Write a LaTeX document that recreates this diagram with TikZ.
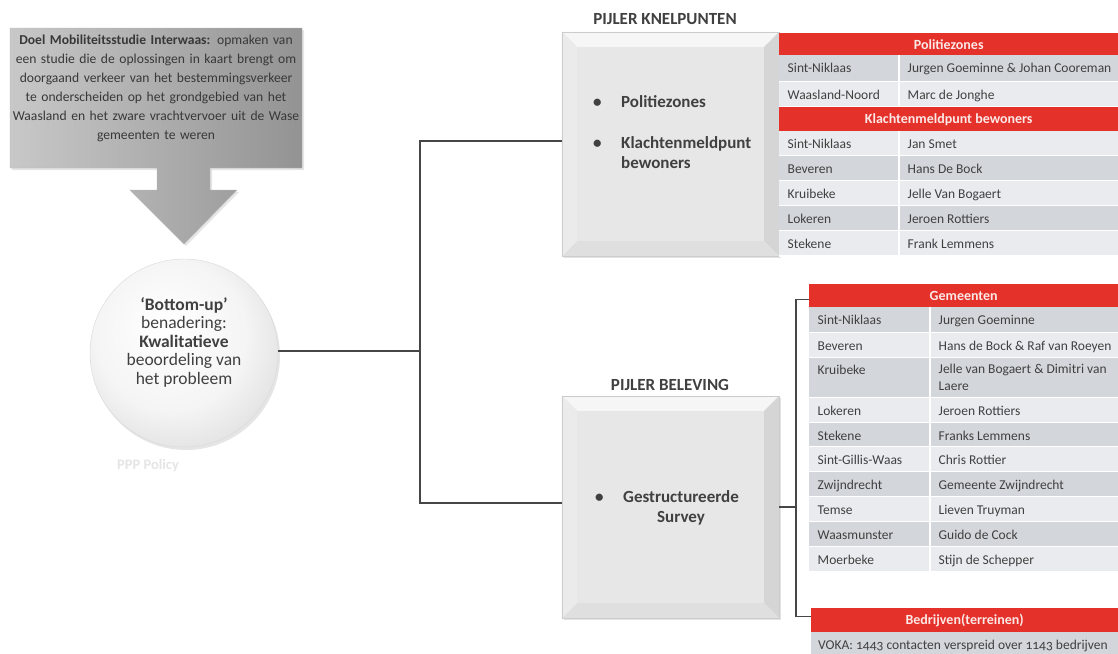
\documentclass[tikz,border=0pt]{standalone}
\usepackage{fontspec}
\setmainfont{Carlito}
\usetikzlibrary{shadows,calc}
\definecolor{txt}{HTML}{404040}
\definecolor{hdr}{HTML}{E4312A}
\definecolor{hdrtxt}{HTML}{FCE8E6}
\definecolor{rowA}{HTML}{D3D6DB}
\definecolor{rowB}{HTML}{E9EBEE}
\definecolor{conn}{HTML}{464646}
\definecolor{bevT}{HTML}{F6F6F6}
\definecolor{bevL}{HTML}{EBEBEB}
\definecolor{bevR}{HTML}{D5D5D5}
\definecolor{bevB}{HTML}{DFDFDF}
\definecolor{face}{HTML}{E7E7E7}
\definecolor{goalL}{HTML}{C8C8C8}
\definecolor{goalR}{HTML}{939393}
\pgfdeclareradialshading{ballish}{\pgfpoint{-6bp}{8bp}}{color(0bp)=(white); color(20bp)=(white!96!black); color(40bp)=(white!82!black); color(50bp)=(white!72!black)}
\tikzset{
  cell/.style={font=\fontsize{13.5}{17}\selectfont, text=txt, inner sep=0pt, anchor=base west},
  hdrbox/.style={fill=hdr, text=hdrtxt, font=\bfseries\fontsize{14}{16}\selectfont, inner sep=0pt, anchor=north west},
  connline/.style={draw=conn, line width=2pt},
  brkline/.style={draw=conn, line width=1.3pt},
  pillar/.style={draw=gray!40, line width=0.4pt, fill=face, minimum width=217pt, inner sep=0pt,
    drop shadow={shadow xshift=2pt, shadow yshift=-2pt, opacity=0.22}},
  titletxt/.style={font=\bfseries\fontsize{17}{20}\selectfont, text=txt, inner sep=0pt},
  boxtxt/.style={font=\bfseries\fontsize{17}{20}\selectfont, text=txt, inner sep=0pt}
}
\newcommand{\bevelize}[1]{%
  \fill[bevT] (#1.north west) -- (#1.north east) -- ($(#1.north east)+(-15,15)$) -- ($(#1.north west)+(15,15)$) -- cycle;
  \fill[bevR] (#1.north east) -- (#1.south east) -- ($(#1.south east)+(-15,-15)$) -- ($(#1.north east)+(-15,15)$) -- cycle;
  \fill[bevB] (#1.south east) -- (#1.south west) -- ($(#1.south west)+(15,-15)$) -- ($(#1.south east)+(-15,-15)$) -- cycle;
  \fill[bevL] (#1.south west) -- (#1.north west) -- ($(#1.north west)+(15,15)$) -- ($(#1.south west)+(15,-15)$) -- cycle;
  \draw[gray!40, line width=0.4pt] (#1.north west) rectangle (#1.south east);
}
% \trow{name}{xl}{xm}{xr}{ytop}{ybot}{color}{left}{right}
\newcommand{\trow}[9]{%
  \fill[#7] (#2,#5) rectangle (#4,#6);
  \draw[white, line width=1.5pt] (#2,#6) -- (#4,#6) (#3,#5) -- (#3,#6);
  \node[cell] (#1a) at (#2+8.5,#5+17.5) {#8};
  \node[cell] (#1b) at (#3+8.5,#5+17.5) {#9};
}
\begin{document}
\begin{tikzpicture}[x=1pt,y=-1pt]
\fill[white] (0,0) rectangle (1118,653);
\useasboundingbox (0,0) rectangle (1118,653);

% goal box with arrow
\path[draw=gray!55, line width=0.4pt, left color=goalL, right color=goalR,
  drop shadow={shadow xshift=2pt, shadow yshift=-2pt, opacity=0.2}]
  (10,28) -- (302,28) -- (302,168) -- (210,168) -- (210,190) -- (237,190) -- (184,244)
  -- (130,190) -- (157,190) -- (157,168) -- (10,168) -- cycle;
\node[align=center, text width=292pt, inner sep=0pt, font=\fontsize{13.6}{19}\selectfont, text=black!78] (goal) at (156,88)
  {\textbf{Doel Mobiliteitsstudie Interwaas:} opmaken van\\
   een studie die de oplossingen in kaart brengt om\\
   doorgaand verkeer van het bestemmingsverkeer\\
   te onderscheiden op het grondgebied van het\\
   Waasland en het zware vrachtvervoer uit de Wase\\
   gemeenten te weren};

% bottom-up circle
\node[circle, minimum size=188pt, inner sep=0pt, shading=ballish, draw=gray!30, line width=0.4pt,
  drop shadow={shadow xshift=2pt, shadow yshift=-3pt, opacity=0.2}] (bu) at (184,353) {};
\node[align=center, inner sep=0pt, font=\fontsize{17.5}{18.5}\selectfont, text=txt] (butxt) at (184,342)
  {\textbf{‘Bottom-up’}\\benadering:\\\textbf{Kwalitatieve}\\beoordeling van\\het probleem};
\node[inner sep=0pt, font=\bfseries\fontsize{14.5}{16}\selectfont, text=black!10] (ppp) at (148,466) {PPP Policy};

% pillars
\node[pillar, minimum height=224pt] (pk) at (670.5,144) {};
\bevelize{pk}
\node[pillar, minimum height=222pt] (pv) at (670.5,507) {};
\bevelize{pv}
\node[titletxt] (pkt) at (665,19) {PIJLER KNELPUNTEN};
\node[titletxt] (pvt) at (670,385) {PIJLER BELEVING};
\node[boxtxt, anchor=west] (pktxt) at (593,134)
  {\begin{tabular}{@{}p{28pt}@{}l@{}}•&Politiezones\\[21pt]•&Klachtenmeldpunt\\&bewoners\end{tabular}};
\node[boxtxt, anchor=west] (pvtxt) at (595,508)
  {\begin{tabular}{@{}p{28pt}@{}c@{}}•&Gestructureerde\\&Survey\end{tabular}};

% connectors
\coordinate (jn) at (420,351);
\draw[connline] (bu.east |- jn) -- (jn);
\draw[connline] (jn) |- ($(pk.west)+(0,-3)$);
\draw[connline] (jn) |- ($(pv.west)+(0,-4)$);

% table 1
\node[hdrbox, minimum width=339pt, minimum height=22pt] (h1) at (779,33) {Politiezones};
\trow{r1}{779}{899}{1118}{55}{82}{rowA}{Sint-Niklaas}{Jurgen Goeminne \& Johan Cooreman}
\trow{r2}{779}{899}{1118}{82}{107}{rowB}{Waasland-Noord}{Marc de Jonghe}
\node[hdrbox, minimum width=339pt, minimum height=24pt] (h2) at (779,107) {Klachtenmeldpunt bewoners};
\trow{r3}{779}{899}{1118}{131}{156}{rowB}{Sint-Niklaas}{Jan Smet}
\trow{r4}{779}{899}{1118}{156}{181}{rowA}{Beveren}{Hans De Bock}
\trow{r5}{779}{899}{1118}{181}{206}{rowB}{Kruibeke}{Jelle Van Bogaert}
\trow{r6}{779}{899}{1118}{206}{231}{rowA}{Lokeren}{Jeroen Rottiers}
\trow{r7}{779}{899}{1118}{231}{256}{rowB}{Stekene}{Frank Lemmens}

% table 2
\node[hdrbox, minimum width=309pt, minimum height=23pt] (h3) at (809,284) {Gemeenten};
\trow{g1}{809}{930}{1118}{307}{333}{rowA}{Sint-Niklaas}{Jurgen Goeminne}
\trow{g2}{809}{930}{1118}{333}{358}{rowB}{Beveren}{Hans de Bock \& Raf van Roeyen}
\fill[rowA] (809,358) rectangle (1118,398);
\draw[white, line width=1.5pt] (809,398) -- (1118,398) (930,358) -- (930,398);
\node[cell] (g3a) at (817.5,374.5) {Kruibeke};
\node[cell, anchor=north west, align=left] (g3b) at (938.5,364) {Jelle van Bogaert \& Dimitri van\\Laere};
\trow{g4}{809}{930}{1118}{398}{423}{rowB}{Lokeren}{Jeroen Rottiers}
\trow{g5}{809}{930}{1118}{423}{447}{rowA}{Stekene}{Franks Lemmens}
\trow{g6}{809}{930}{1118}{447}{472}{rowB}{Sint-Gillis-Waas}{Chris Rottier}
\trow{g7}{809}{930}{1118}{472}{497}{rowA}{Zwijndrecht}{Gemeente Zwijndrecht}
\trow{g8}{809}{930}{1118}{497}{522}{rowB}{Temse}{Lieven Truyman}
\trow{g9}{809}{930}{1118}{522}{547}{rowA}{Waasmunster}{Guido de Cock}
\trow{g10}{809}{930}{1118}{547}{572}{rowB}{Moerbeke}{Stijn de Schepper}

% table 3
\node[hdrbox, minimum width=307pt, minimum height=24pt] (h4) at (811,608) {Bedrijven(terreinen)};
\fill[rowA] (811,632) rectangle (1118,655);
\node[cell] (voka) at (818,649) {\addfontfeatures{Numbers=OldStyle}VOKA: 1443 contacten verspreid over 1143 bedrijven};

% bracket
\coordinate (bx) at (796,0);
\draw[brkline] (pv.east) -- (pv.east -| bx);
\draw[brkline] ($(h3.west)+(0,4)$) -| ($(bx |- h4.west)+(0,-4)$) -- ($(h4.west)+(0,-4)$);
\end{tikzpicture}
\end{document}
